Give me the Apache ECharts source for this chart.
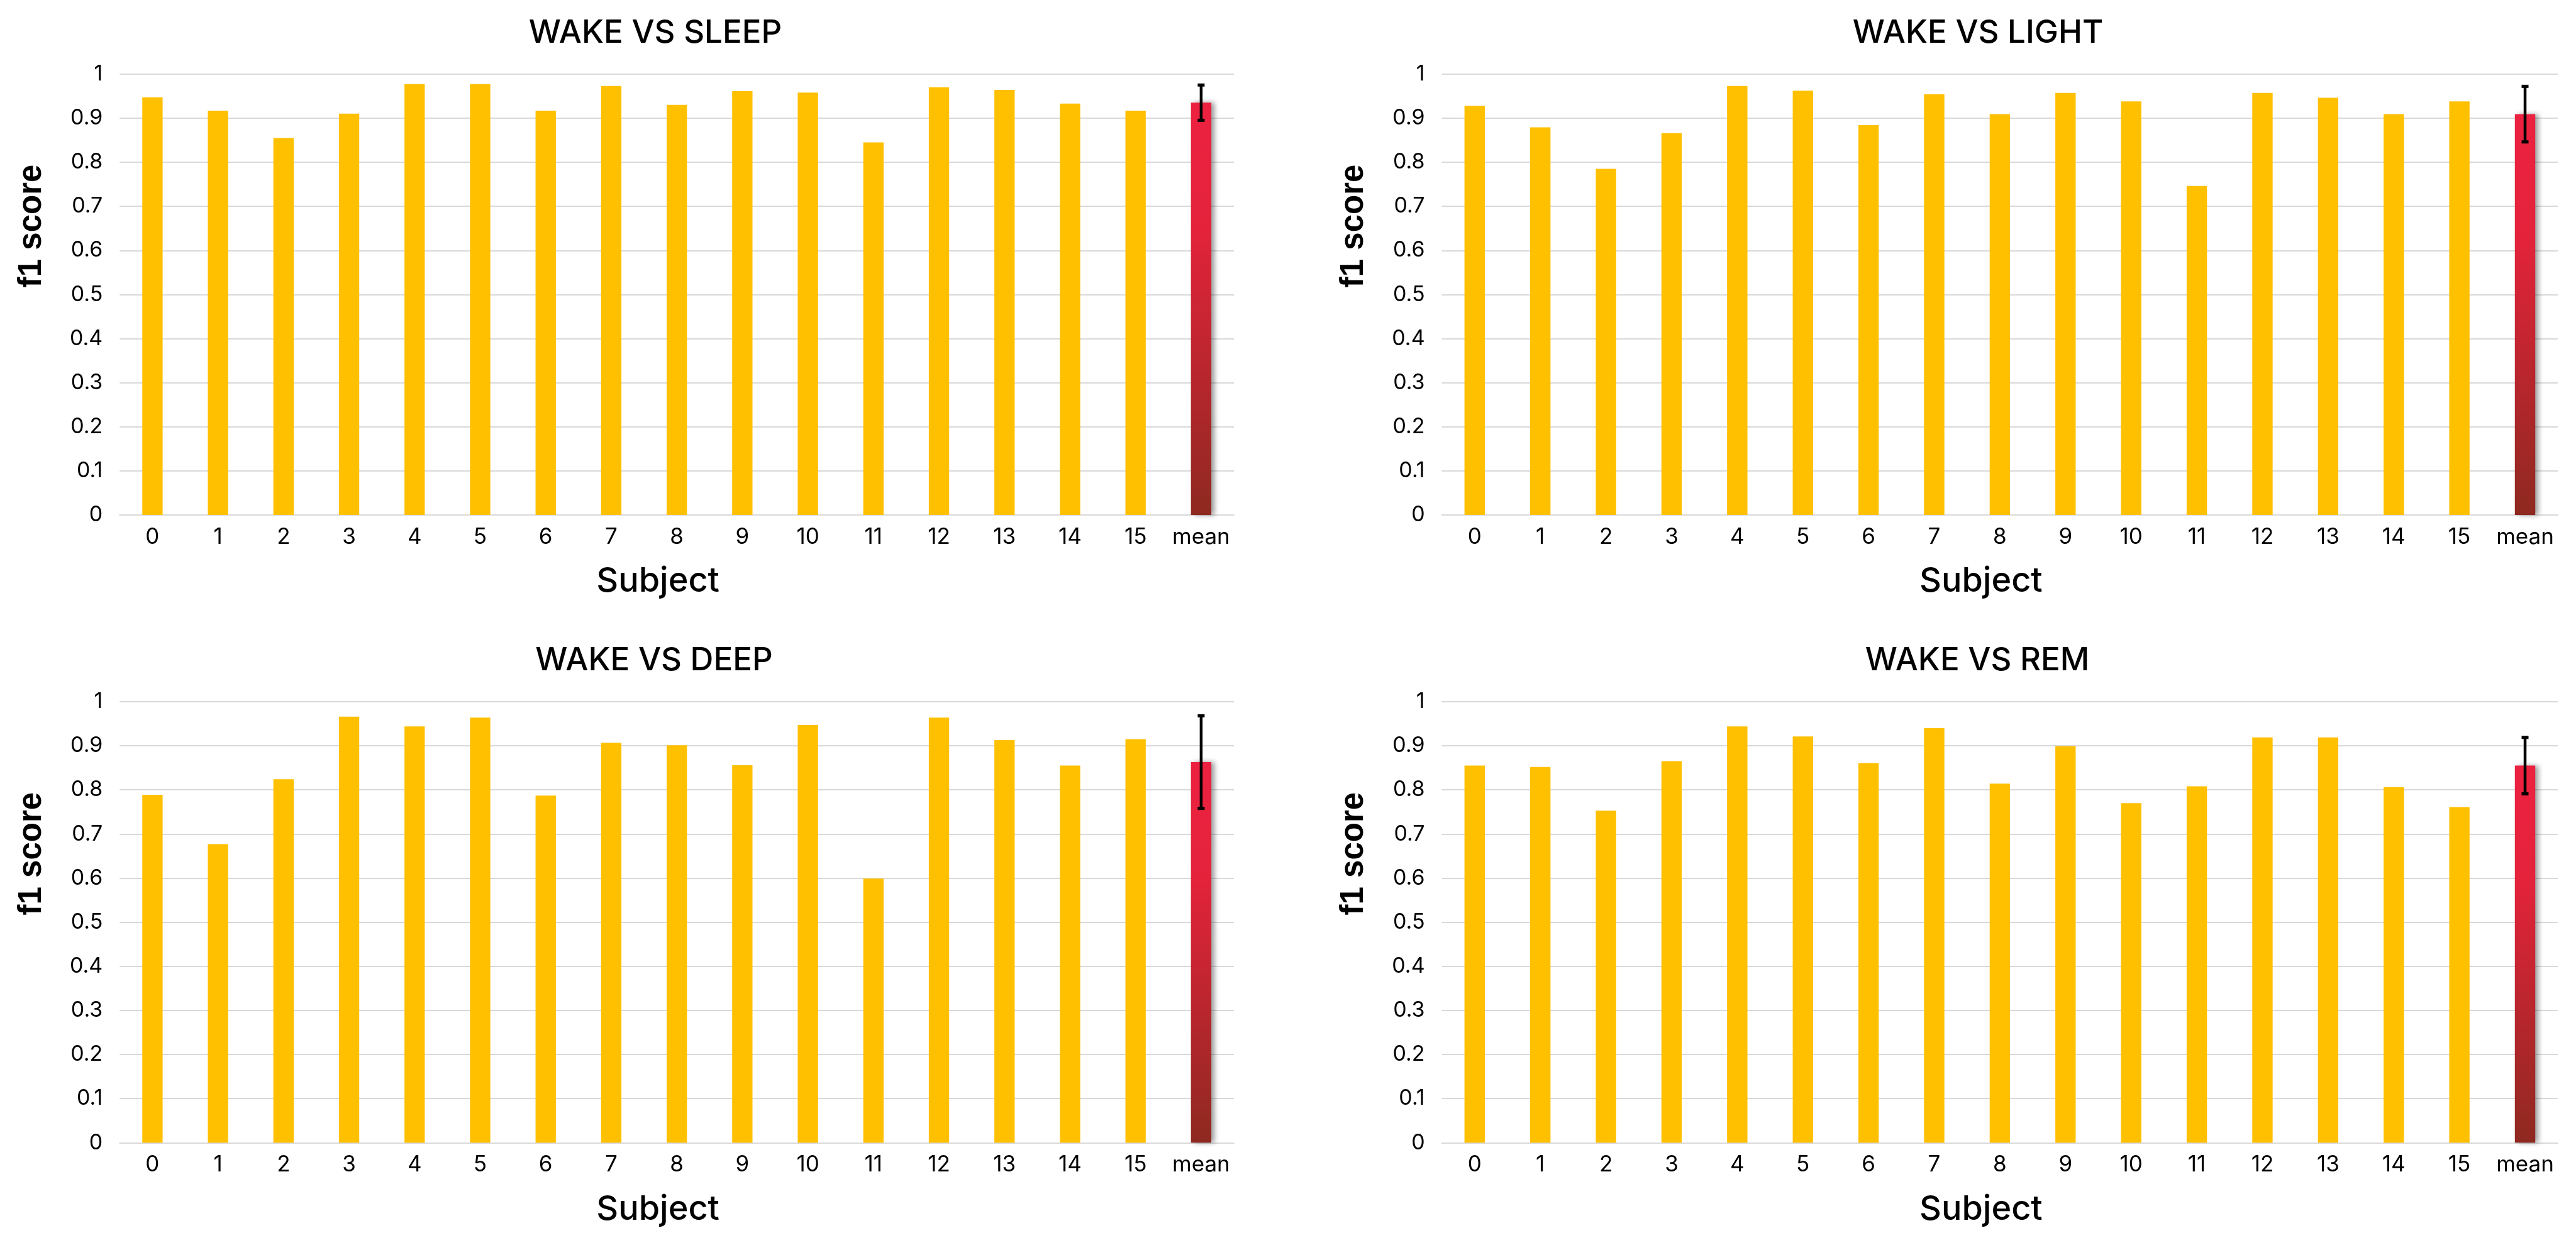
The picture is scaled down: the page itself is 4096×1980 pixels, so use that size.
<!DOCTYPE html>
<html>
<head>
<meta charset="utf-8">
<script src="https://cdn.jsdelivr.net/npm/echarts@6/dist/echarts.min.js"></script>
<style>html,body{margin:0;padding:0;background:#fff}#c{width:4096px;height:1980px}</style>
</head>
<body>
<div id="c"></div>
<script>
// ---- data ----
const categories = ['0','1','2','3','4','5','6','7','8','9','10','11','12','13','14','15','mean'];
const titles = ['WAKE VS SLEEP', 'WAKE VS LIGHT', 'WAKE VS DEEP', 'WAKE VS REM'];
const sleepF1 = [0.947, 0.917, 0.855, 0.910, 0.977, 0.977, 0.917, 0.973, 0.930, 0.961, 0.958, 0.845, 0.970, 0.964, 0.933, 0.917];
const lightF1 = [0.928, 0.879, 0.785, 0.866, 0.973, 0.962, 0.884, 0.954, 0.909, 0.957, 0.938, 0.746, 0.957, 0.946, 0.909, 0.938];
const deepF1  = [0.789, 0.677, 0.824, 0.966, 0.944, 0.964, 0.787, 0.907, 0.901, 0.856, 0.947, 0.599, 0.964, 0.913, 0.855, 0.915];
const remF1   = [0.855, 0.852, 0.753, 0.865, 0.944, 0.921, 0.861, 0.940, 0.814, 0.899, 0.770, 0.808, 0.919, 0.919, 0.806, 0.761];
const meanF1  = [0.935, 0.909, 0.863, 0.855];
const stdF1   = [0.040, 0.063, 0.105, 0.064];
const yTicks  = {min: 0, max: 1, interval: 0.1};

// ---- layout (px) ----
const panels = [
  {left: 190.3, top: 117.7, width: 1771.7, titleX: 1042},
  {left: 2292.6, top: 117.7, width: 1774.6, titleX: 3145},
  {left: 190.3, top: 1115.9, width: 1771.7, titleX: 1040},
  {left: 2292.6, top: 1115.9, width: 1774.6, titleX: 3144}
];
const gridH = 701.4;
const seriesData = [sleepF1, lightF1, deepF1, remF1];

const meanGradient = new echarts.graphic.LinearGradient(0, 0, 0, 1, [
  {offset: 0, color: '#EC2140'},
  {offset: 0.3, color: '#E4233B'},
  {offset: 1, color: '#8E2920'}
]);

const option = {
  backgroundColor: '#ffffff',
  animation: false,
  title: panels.map((p, i) => ({
    text: titles[i],
    left: p.titleX,
    top: p.top - 91,
    textAlign: 'center',
    padding: 0,
    textStyle: {fontFamily: 'Inter', fontSize: 51, fontWeight: 500, color: '#000'}
  })),
  grid: panels.map(p => ({left: p.left, top: p.top, width: p.width, height: gridH, containLabel: false})),
  xAxis: panels.map((p, i) => ({
    type: 'category', gridIndex: i, data: categories,
    name: 'Subject', nameLocation: 'middle', nameGap: 79,
    nameTextStyle: {fontFamily: 'Inter', fontSize: 54, fontWeight: 500, color: '#000', padding: [0, 60, 0, 0]},
    axisLine: {show: true, lineStyle: {color: '#D9D9D9', width: 2}},
    axisTick: {show: false},
    axisLabel: {fontFamily: 'Inter', fontSize: 35, color: '#000', margin: 18, interval: 0}
  })),
  yAxis: panels.map((p, i) => ({
    type: 'value', gridIndex: i, min: yTicks.min, max: yTicks.max, interval: yTicks.interval,
    name: 'f1 score', nameLocation: 'middle', nameGap: 114,
    nameTextStyle: {fontFamily: '"Liberation Sans", Arial, sans-serif', fontSize: 51, fontWeight: 'bold', color: '#000', padding: [0, 0, 0, 218]},
    axisLine: {show: false}, axisTick: {show: false},
    axisLabel: {fontFamily: 'Inter', fontSize: 34, color: '#000', margin: 27},
    splitLine: {show: true, lineStyle: {color: '#D9D9D9', width: 2}}
  })),
  series: []
};

seriesData.forEach((vals, i) => {
  const data = vals.map(v => ({value: v}));
  data.push({
    value: meanF1[i],
    itemStyle: {color: meanGradient, shadowColor: 'rgba(0,0,0,0.4)', shadowBlur: 8, shadowOffsetX: 5, shadowOffsetY: 0}
  });
  option.series.push({
    type: 'bar', xAxisIndex: i, yAxisIndex: i, data: data,
    barWidth: '31%', itemStyle: {color: '#FFC000'}, silent: true
  });
  option.series.push({
    type: 'custom', xAxisIndex: i, yAxisIndex: i, silent: true, z: 10,
    data: [[categories.length - 1, meanF1[i] - stdF1[i], meanF1[i] + stdF1[i]]],
    renderItem: function (params, api) {
      const x = api.value(0);
      const lo = api.coord([x, api.value(1)]);
      const hi = api.coord([x, api.value(2)]);
      const capW = 11, capH = 5;
      return {
        type: 'group',
        children: [
          {type: 'line', shape: {x1: hi[0], y1: hi[1], x2: lo[0], y2: lo[1]}, style: {stroke: '#000', lineWidth: 4.5}},
          {type: 'rect', shape: {x: hi[0] - capW / 2, y: hi[1] - capH / 2, width: capW, height: capH}, style: {fill: '#000'}},
          {type: 'rect', shape: {x: lo[0] - capW / 2, y: lo[1] - capH / 2, width: capW, height: capH}, style: {fill: '#000'}}
        ]
      };
    }
  });
});

const chart = echarts.init(document.getElementById('c'), null, {renderer: 'canvas'});
chart.setOption(option);
</script>
</body>
</html>
